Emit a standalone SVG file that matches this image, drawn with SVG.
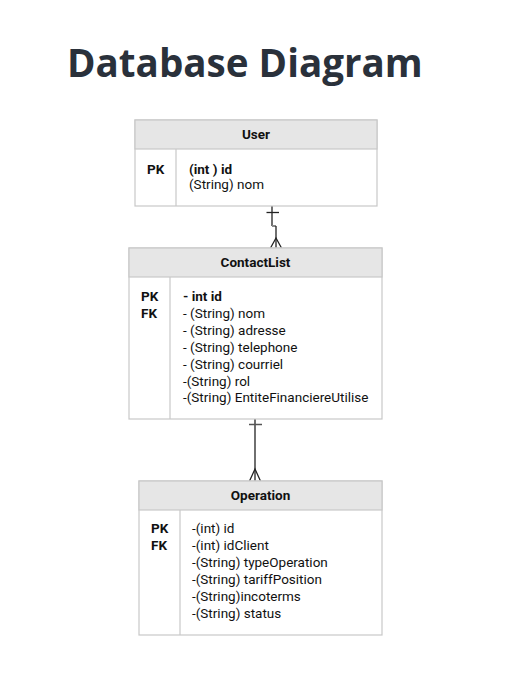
<svg xmlns="http://www.w3.org/2000/svg" width="523" height="676" viewBox="0 0 523 676">
<style>
.title{font-family:"Open Sans","Noto Sans",sans-serif;font-weight:700;font-size:38.6px;fill:#2a313b}
.box{fill:#fff;stroke:#c8c8c8;stroke-width:1.2}
.hdr{fill:#e6e6e6;stroke:#c8c8c8;stroke-width:1.2}
.div{stroke:#c8c8c8;stroke-width:1.2}
text{font-family:Roboto,"Liberation Sans",sans-serif;font-size:13.5px;fill:#111}
.b{font-weight:700}
.h{font-weight:700;text-anchor:middle}
.ln{stroke:#222;stroke-width:1.3;fill:none}
</style>
<rect width="523" height="676" fill="#fff"/>
<text class="title" x="67" y="77">Database Diagram</text>
<g id="connectors">
  <path class="ln" d="M272 206 V226"/>
  <path d="M272 226 H276" stroke="#888" stroke-width="2"/>
  <path class="ln" d="M276 226 V248"/>
  <path class="ln" d="M266.5 212.5 H279"/>
  <path class="ln" d="M270.5 248 L276 238 L281.5 248"/>
  <path class="ln" d="M255 419 V481"/>
  <path d="M249 424.5 H262" stroke="#555" stroke-width="1.5"/>
  <path class="ln" d="M249.5 481 L255 469 L260.5 481"/>
</g>
<g id="user">
  <rect class="box" x="135" y="120" width="242" height="86"/>
  <rect class="hdr" x="135" y="120" width="242" height="29"/>
  <line class="div" x1="176" y1="149" x2="176" y2="206"/>
  <text class="h" x="256" y="139">User</text>
  <text class="b" x="147" y="174">PK</text>
  <text class="b" x="189" y="174">(int ) id</text>
  <text x="189" y="189">(String) nom</text>
</g>
<g id="contactlist">
  <rect class="box" x="129" y="248" width="253" height="171"/>
  <rect class="hdr" x="129" y="248" width="253" height="29"/>
  <line class="div" x1="170" y1="277" x2="170" y2="419"/>
  <text class="h" x="255.5" y="267">ContactList</text>
  <text class="b" x="141" y="301">PK</text>
  <text class="b" x="141" y="318">FK</text>
  <text class="b" x="183" y="301">- int id</text>
  <text x="183" y="318">- (String) nom</text>
  <text x="183" y="335">- (String) adresse</text>
  <text x="183" y="351.5">- (String) telephone</text>
  <text x="183" y="368.5">- (String) courriel</text>
  <text x="183" y="385.5">-(String) rol</text>
  <text x="183" y="402">-(String) EntiteFinanciereUtilise</text>
</g>
<g id="operation">
  <rect class="box" x="139" y="481" width="243" height="154"/>
  <rect class="hdr" x="139" y="481" width="243" height="29"/>
  <line class="div" x1="180" y1="510" x2="180" y2="635"/>
  <text class="h" x="260.5" y="500">Operation</text>
  <text class="b" x="151" y="533">PK</text>
  <text class="b" x="151" y="550">FK</text>
  <text x="192" y="533">-(int) id</text>
  <text x="192" y="550">-(int) idClient</text>
  <text x="192" y="567">-(String) typeOperation</text>
  <text x="192" y="584">-(String) tariffPosition</text>
  <text x="192" y="601">-(String)incoterms</text>
  <text x="192" y="618">-(String) status</text>
</g>
</svg>
